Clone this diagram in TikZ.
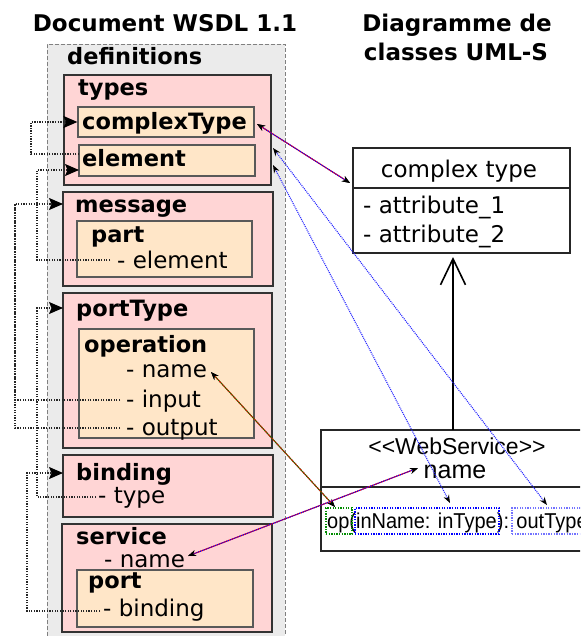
\documentclass[tikz,border=0pt]{standalone}
\usepackage{fontspec}
\usepackage{graphicx}
\setmainfont{DejaVu Sans}
\newfontfamily\umlfont{Liberation Sans}
\usetikzlibrary{arrows.meta,fit}

\definecolor{defgray}{HTML}{EBEBEB}
\definecolor{pinkfill}{HTML}{FFD5D5}
\definecolor{peachfill}{HTML}{FFE6C8}

\tikzset{
  title/.style={font=\fontsize{23}{27}\selectfont\bfseries, anchor=base, inner sep=0pt},
  kw/.style={font=\fontsize{22.5}{27}\selectfont\bfseries, anchor=base west, inner sep=0pt},
  attr/.style={font=\fontsize{23}{27}\selectfont, anchor=base west, inner sep=0pt},
  uml/.style={font=\umlfont\fontsize{#1}{#1}\selectfont, anchor=base, inner sep=0pt},
  defbox/.style={fill=defgray, draw=gray, dash pattern=on 4pt off 2pt, line width=0.8pt, inner sep=0pt},
  sect/.style={fill=pinkfill, draw=black!80, line width=1.2pt, inner sep=0pt},
  subsect/.style={fill=peachfill, draw=black!65, line width=1.2pt, inner sep=0pt},
  classbox/.style={fill=white, draw=black!85, line width=1.2pt, inner sep=0pt},
  markbox/.style={draw=#1, dash pattern=on 1.3pt off 1.3pt, line width=1.3pt, inner sep=0pt},
  depline/.style={black!85, dash pattern=on 1.3pt off 1.3pt, line width=1.3pt},
  dep/.style={depline, -{Stealth[length=14pt,width=12pt,inset=2.5pt,black]}},
  smalltips/.style={{Stealth[length=8pt,width=6pt,black]}-{Stealth[length=8pt,width=6pt,black]}},
  mapA/.style={smalltips, draw=blue, dash pattern=on 1pt off 1pt, line width=1.1pt,
    preaction={draw=red, solid, line width=1.1pt}},
  mapB/.style={smalltips, draw=green!50!black, dash pattern=on 1pt off 1pt, line width=1.1pt,
    preaction={draw=red, solid, line width=1.1pt}},
  mapC/.style={smalltips, draw=blue!85, dash pattern=on 1pt off 1pt, line width=1.1pt},
}

\begin{document}
\begin{tikzpicture}[x=1pt,y=-1pt]
\clip (0,0) rectangle (580,636);
\fill[white] (0,0) rectangle (580,636);

% column titles
\node[title] (t1) at (165,32) {Document WSDL 1.1};
\node[title] (t2) at (457,32) {Diagramme de};
\node[title] (t3) at (456,61) {classes UML-S};

% WSDL document structure
\node[defbox, fit={(47,44) (285,660)}] (defs) {};
\node[kw] (ldefs) at (67,65) {definitions};

\node[sect, fit={(64,75) (271,185)}] (types) {};
\node[kw] (ltypes) at (78,96) {types};
\node[subsect, fit={(78,107) (254,137)}] (cT) {};
\node[kw] (lcT) at (82,130) {complexType};
\node[subsect, fit={(79,145) (255,176)}] (elem) {};
\node[kw] (lelem) at (82,167) {element};

\node[sect, fit={(63,192) (273,286)}] (msg) {};
\node[kw] (lmsg) at (75,212) {message};
\node[subsect, fit={(77,221) (252,277)}] (part) {};
\node[kw] (lpart) at (91,242) {part};
\node[attr] (partel) at (117,268) {- element};

\node[sect, fit={(63,293) (272,448)}] (ptype) {};
\node[kw] (lptype) at (76,316) {portType};
\node[subsect, fit={(79,329) (254,438)}] (oper) {};
\node[kw] (loper) at (84,352) {operation};
\node[attr] (opname) at (126,377) {- name};
\node[attr] (opin) at (126,407) {- input};
\node[attr] (opout) at (126,435) {- output};

\node[sect, fit={(63,455) (273,517)}] (bind) {};
\node[kw] (lbind) at (76,480) {binding};
\node[attr] (bindtype) at (98,503) {- type};

\node[sect, fit={(62,524) (272,632)}] (serv) {};
\node[kw] (lserv) at (76,544) {service};
\node[attr] (servname) at (104,567) {- name};
\node[subsect, fit={(77,570) (253,627)}] (port) {};
\node[kw] (lport) at (88,588) {port};
\node[attr] (portbind) at (103,616) {- binding};

% references inside the document
\coordinate (a0) at (79,154);  \coordinate (a1) at (31,122);
\coordinate (b0) at (110,260); \coordinate (b1) at (37,170); \coordinate (b2) at (79,170);
\coordinate (c0) at (120,400); \coordinate (c1) at (120,428);
\coordinate (c2) at (15,204);  \coordinate (c3) at (63,204);
\coordinate (d0) at (96,497);  \coordinate (d1) at (37,308);  \coordinate (d2) at (63,308);
\coordinate (e0) at (100,611); \coordinate (e1) at (27,473);  \coordinate (e2) at (63,473);

\draw[dep] (a0) -| (a1) -- (cT.west);
\draw[dep] (b0) -| (b1) -- (b2);
\draw[dep] (c0) -| (c2) -- (c3);
\draw[depline] (c1) -| (c2);
\draw[dep] (d0) -| (d1) -- (d2);
\draw[dep] (e0) -| (e1) -- (e2);

% UML-S classes
\node[classbox, fit={(353,148) (570,253)}] (ctcls) {};
\draw[black!85, line width=1.2pt] (353,188) -- (570,188);
\node[attr, anchor=base] (ctname) at (459,178) {complex type};
\node[attr] (attr1) at (363,214) {- attribute\_1};
\node[attr] (attr2) at (363,242) {- attribute\_2};

\node[classbox, fit={(321,430) (610,551)}] (wscls) {};
\draw[black!85, line width=1.2pt] (321,487) -- (610,487);
\node[uml=23] (stereo) at (457,454) {<{}<WebService>{}>};
\node[uml=25] (wsname) at (455,478) {name};
\node[uml=21.5, anchor=base west] (opsig) at (327,528) {\scalebox{0.93}[1]{op(inName: inType): outType}};
\node[markbox=green!55!black, fit={(326,508) (352,534)}] (opbox) {};
\node[markbox=blue, fit={(355,508) (499,534)}] (inbox) {};
\node[markbox=blue!55, fit={(512,508) (610,534)}] (outbox) {};

% inheritance
\coordinate (genTop) at (453,257);
\coordinate (genBot) at (453,430);
\draw[black, line width=2.5pt, -{Straight Barb[length=26pt,width=25pt,line width=1.6pt]}] (genBot) -- (genTop);

% mappings between WSDL and UML-S
\coordinate (m1a) at (257,124); \coordinate (m1b) at (350,183);
\coordinate (m2a) at (273,148); \coordinate (m2b) at (547,505);
\coordinate (m3a) at (273,165); \coordinate (m3b) at (450,503);
\coordinate (m4a) at (211,372); \coordinate (m4b) at (335,507);
\coordinate (m5a) at (188,556); \coordinate (m5b) at (418,468);

\draw[mapA] (m1a) -- (m1b);
\draw[mapC] (m2a) -- (m2b);
\draw[mapC] (m3a) -- (m3b);
\draw[mapB] (m4a) -- (m4b);
\draw[mapA] (m5a) -- (m5b);
\end{tikzpicture}
\end{document}
